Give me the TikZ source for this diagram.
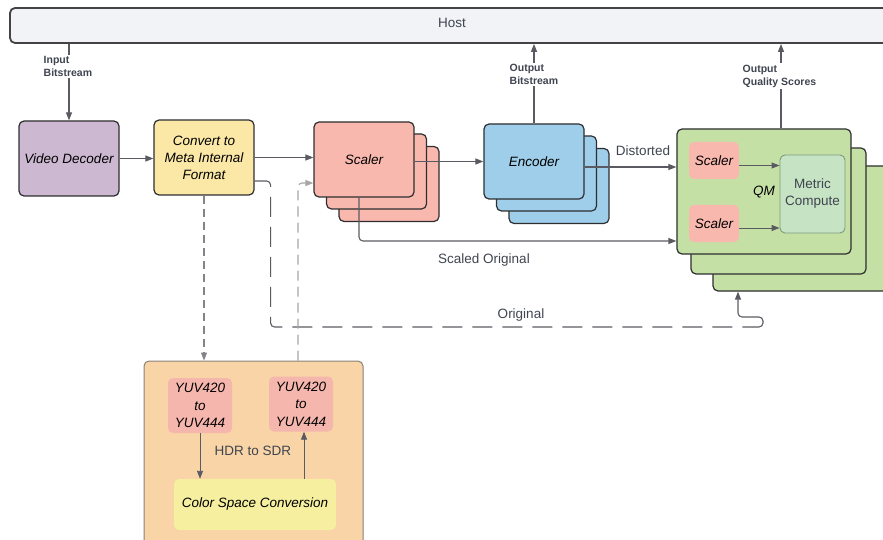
\documentclass[tikz,border=0pt]{standalone}
\usepackage{fontspec}
\setmainfont{Liberation Sans}
\usetikzlibrary{arrows.meta,calc}

\definecolor{hostfill}{HTML}{F2F3F7}
\definecolor{edge}{HTML}{2E2E30}
\definecolor{wire}{HTML}{5A5B62}
\definecolor{txtgray}{HTML}{3F4450}
\definecolor{decfill}{HTML}{CDB8D2}
\definecolor{convfill}{HTML}{FBE8A7}
\definecolor{scalefill}{HTML}{F8B8AE}
\definecolor{encfill}{HTML}{9ECEEA}
\definecolor{qmfill}{HTML}{C5E0A5}
\definecolor{metfill}{HTML}{C6E3C3}
\definecolor{metedge}{HTML}{7E9A80}
\definecolor{orngfill}{HTML}{F8D4A6}
\definecolor{orngedge}{HTML}{8A8178}
\definecolor{cscfill}{HTML}{F5EF9F}
\definecolor{subfill}{HTML}{F5B6AD}

\tikzset{
  blk/.style={draw=edge, line width=1.2pt, rounded corners=5pt, inner sep=0pt,
    align=center, font=\fontsize{13.5}{17}\selectfont\itshape},
  sub/.style={rounded corners=5pt, inner sep=0pt, align=center,
    font=\fontsize{13.5}{17.5}\selectfont\itshape},
  arr/.style={draw=wire, line width=1.1pt, -{Triangle[length=8pt,width=6pt]}},
  lbl/.style={font=\fontsize{13.5}{16}\selectfont, text=txtgray, inner sep=1pt},
  iolbl/.style={font=\fontsize{10.5}{13}\selectfont\bfseries, text=txtgray,
    align=left, fill=white, inner sep=1.5pt, anchor=west},
  dashA/.style={draw=wire!75, line width=1.1pt, dash pattern=on 8pt off 5pt},
  dashB/.style={draw=gray!70, line width=1.1pt, dash pattern=on 10pt off 6pt},
  dashC/.style={draw=wire, line width=1.1pt, dash pattern=on 20pt off 10pt},
}

\begin{document}
\begin{tikzpicture}[x=1pt,y=-1pt]
\useasboundingbox (0,0) rectangle (883,540);

% host bar across the top
\node[blk, fill=hostfill, draw=edge!90, line width=1.8pt, minimum width=883pt, minimum height=35pt,
  font=\fontsize{13.5}{16}\selectfont] (host) at (451.5,25.5) {};
\node[lbl] (hostlbl) at (452,23) {Host};

% decode and format conversion
\node[blk, fill=decfill, minimum width=100pt, minimum height=75pt] (vdec) at (69,158.5) {Video Decoder};
\node[blk, fill=convfill, minimum width=100pt, minimum height=75pt] (conv) at (204,157.5)
  {Convert to\\Meta Internal\\Format};

% scaler stack
\node[blk, fill=scalefill, minimum width=100pt, minimum height=75pt] (sc3) at (389,184) {};
\node[blk, fill=scalefill, minimum width=100pt, minimum height=75pt] (sc2) at (376.5,171.5) {};
\node[blk, fill=scalefill, minimum width=100pt, minimum height=75pt] (sc1) at (364,159.5) {Scaler};

% encoder stack
\node[blk, fill=encfill, minimum width=100pt, minimum height=75pt] (enc3) at (559,186) {};
\node[blk, fill=encfill, minimum width=100pt, minimum height=75pt] (enc2) at (546.5,173.5) {};
\node[blk, fill=encfill, minimum width=100pt, minimum height=75pt] (enc1) at (534,161.5) {Encoder};

% quality metric stack
\node[blk, fill=qmfill, minimum width=175pt, minimum height=125pt] (qm3) at (800.5,228.5) {};
\node[blk, fill=qmfill, minimum width=175pt, minimum height=126pt] (qm2) at (778.5,211) {};
\node[blk, fill=qmfill, minimum width=174pt, minimum height=125pt] (qm1) at (764,191.5) {};
\node[sub, fill=scalefill, minimum width=50pt, minimum height=37pt] (qsa) at (714,160.5) {Scaler};
\node[sub, fill=scalefill, minimum width=50pt, minimum height=37pt] (qsb) at (714,223.5) {Scaler};
\node[sub, fill=metfill, draw=metedge, line width=0.9pt, minimum width=65pt, minimum height=78pt,
  text=txtgray, font=\fontsize{13.5}{17}\selectfont] (met) at (812.5,194) {Metric\\Compute};
\node[sub, inner sep=1pt] (qmlbl) at (764,192) {QM};

% colour space conversion block
\node[draw=orngedge, line width=1pt, rounded corners=5pt, fill=orngfill,
  minimum width=219pt, minimum height=199pt] (orng) at (253.5,460.5) {};
\node[sub, fill=subfill, minimum width=64pt, minimum height=55pt] (yuva) at (200,405.5) {YUV420\\to\\YUV444};
\node[sub, fill=subfill, minimum width=64pt, minimum height=55pt] (yuvb) at (301,404) {YUV420\\to\\YUV444};
\node[sub, fill=cscfill, minimum width=162pt, minimum height=51pt] (csc) at (255,504.5) {Color Space Conversion};
\node[lbl] (hdr) at (253,451) {HDR to SDR};

% host I/O
\draw[arr] (host.south -| vdec.north) -- (vdec.north);
\node[iolbl] (inlbl) at (42,66.5) {Input\\Bitstream};
\draw[arr] (enc1.north) -- (enc1.north |- host.south);
\node[iolbl] (obslbl) at (508,74.5) {Output\\Bitstream};
\draw[arr] ([xshift=17pt]qm1.north) -- ([xshift=17pt]qm1.north |- host.south);
\node[iolbl] (oqslbl) at (741,76) {Output\\Quality Scores};

% main pipeline
\draw[arr] (vdec.east) -- (vdec.east -| conv.west);
\draw[arr] (conv.east) -- (conv.east -| sc1.west);
\draw[arr] (sc1.east |- enc1.west) -- (enc1.west);
\draw[arr] ([yshift=-5.5pt]enc1.east) -- ([yshift=-5.5pt]enc1.east -| qm1.west);
\node[lbl] (dlbl) at (643,151) {Distorted};
\draw[arr, rounded corners=4pt] ([xshift=-5pt]sc1.south) |- ([yshift=-49.5pt]qm1.west);
\node[lbl] (solbl) at (484,260.5) {Scaled Original};

% inside the metric block
\draw[arr, line width=0.9pt] ([yshift=-5pt]qsa.east) -- ([yshift=-5pt]qsa.east -| met.west);
\draw[arr, line width=0.9pt] ([yshift=-4.5pt]qsb.east) -- ([yshift=-4.5pt]qsb.east -| met.west);

% original (unscaled) path into the metric stack: long dashes, solid hook at the end
\coordinate (orighook) at (752,327);
\draw[dashC, rounded corners=4pt]
  ([yshift=-23.5pt]conv.east) -- ++(16,0) -- ++(0,146) -- (orighook);
\draw[arr, rounded corners=4pt]
  (orighook) -- ++(11,0) -- ++(0,-10) -- ++(-25,0) -- ([xshift=-62.5pt]qm3.south);
\node[lbl] (origlbl) at (521,315) {Original};

% colour space conversion round trip
\draw[dashA, -{Triangle[length=8pt,width=6pt]}] (conv.south) -- (conv.south |- orng.north);
\draw[dashB, rounded corners=4pt, -{Triangle[length=8pt,width=6pt]}]
  ([xshift=154.5pt]orng.north west) |- ([yshift=-23.5pt]sc1.west);
\draw[arr, line width=0.9pt] (yuva.south) -- (yuva.south |- csc.north);
\draw[arr, line width=0.9pt] ([xshift=3pt]yuvb.south |- csc.north) -- ([xshift=3pt]yuvb.south);
\end{tikzpicture}
\end{document}
